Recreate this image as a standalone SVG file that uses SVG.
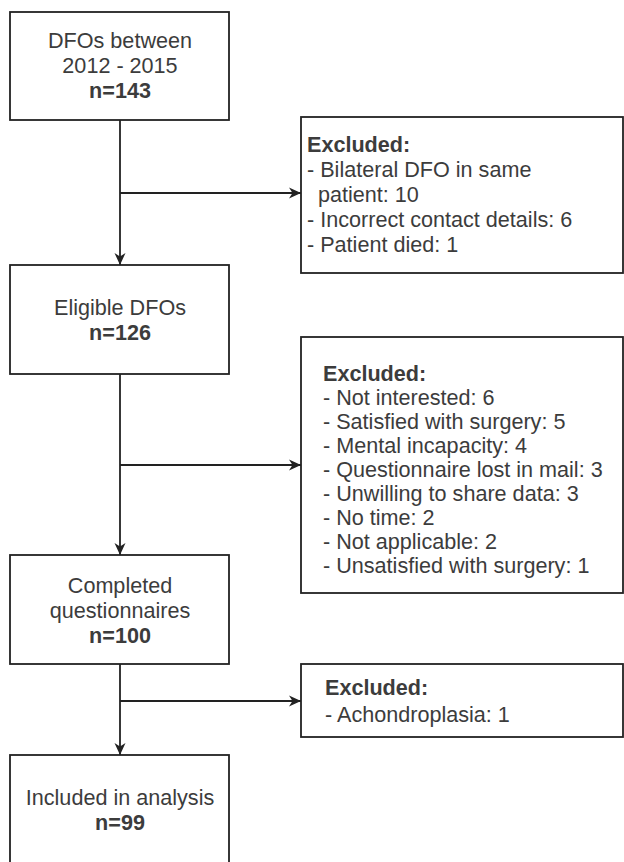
<svg xmlns="http://www.w3.org/2000/svg" width="624" height="862" viewBox="0 0 624 862">
<style>
  .box { fill: #ffffff; stroke: #222222; stroke-width: 1.8; }
  .t { font-family: "Liberation Sans", Arial, sans-serif; font-size: 21.6px; fill: #3c3c3c; }
  .c { text-anchor: middle; }
  .b { font-weight: bold; }
  .edge { fill: none; stroke: #222222; stroke-width: 1.8; }
</style>
<defs>
  <marker id="arr" viewBox="0 0 12 12" refX="12" refY="6" markerWidth="12" markerHeight="12" markerUnits="userSpaceOnUse" orient="auto">
    <path d="M0,0.5 L12,6 L0,11.5 L3.5,6 Z" fill="#222222"/>
  </marker>
</defs>
<rect width="624" height="862" fill="#ffffff"/>

<g id="edges">
  <path class="edge" d="M120,120 V265" marker-end="url(#arr)"/>
  <path class="edge" d="M120,193 H301" marker-end="url(#arr)"/>
  <path class="edge" d="M120,374 V555" marker-end="url(#arr)"/>
  <path class="edge" d="M120,465 H301" marker-end="url(#arr)"/>
  <path class="edge" d="M120,664 V755" marker-end="url(#arr)"/>
  <path class="edge" d="M120,701 H301" marker-end="url(#arr)"/>
</g>

<g id="n1">
  <rect class="box" x="10" y="12" width="219" height="108"/>
  <text class="t c" x="120" y="48">DFOs between</text>
  <text class="t c" x="120" y="73">2012 - 2015</text>
  <text class="t c b" x="120" y="98">n=143</text>
</g>

<g id="x1">
  <rect class="box" x="301" y="117" width="322" height="156"/>
  <text class="t b" x="307" y="152">Excluded:</text>
  <text class="t" x="307" y="177">- Bilateral DFO in same</text>
  <text class="t" x="318" y="202">patient: 10</text>
  <text class="t" x="307" y="227">- Incorrect contact details: 6</text>
  <text class="t" x="307" y="252">- Patient died: 1</text>
</g>

<g id="n2">
  <rect class="box" x="10" y="265" width="219" height="109"/>
  <text class="t c" x="120" y="315">Eligible DFOs</text>
  <text class="t c b" x="120" y="340">n=126</text>
</g>

<g id="x2">
  <rect class="box" x="301" y="337" width="322" height="256"/>
  <text class="t b" x="323" y="381">Excluded:</text>
  <text class="t" x="323" y="405">- Not interested: 6</text>
  <text class="t" x="323" y="429">- Satisfied with surgery: 5</text>
  <text class="t" x="323" y="453">- Mental incapacity: 4</text>
  <text class="t" x="323" y="477">- Questionnaire lost in mail: 3</text>
  <text class="t" x="323" y="501">- Unwilling to share data: 3</text>
  <text class="t" x="323" y="525">- No time: 2</text>
  <text class="t" x="323" y="549">- Not applicable: 2</text>
  <text class="t" x="323" y="573">- Unsatisfied with surgery: 1</text>
</g>

<g id="n3">
  <rect class="box" x="10" y="555" width="219" height="109"/>
  <text class="t c" x="120" y="593">Completed</text>
  <text class="t c" x="120" y="618">questionnaires</text>
  <text class="t c b" x="120" y="643">n=100</text>
</g>

<g id="x3">
  <rect class="box" x="301" y="664" width="322" height="73"/>
  <text class="t b" x="325" y="695">Excluded:</text>
  <text class="t" x="325" y="722">- Achondroplasia: 1</text>
</g>

<g id="n4">
  <rect class="box" x="10" y="755" width="219" height="130"/>
  <text class="t c" x="120" y="805">Included in analysis</text>
  <text class="t c b" x="120" y="830">n=99</text>
</g>
</svg>
